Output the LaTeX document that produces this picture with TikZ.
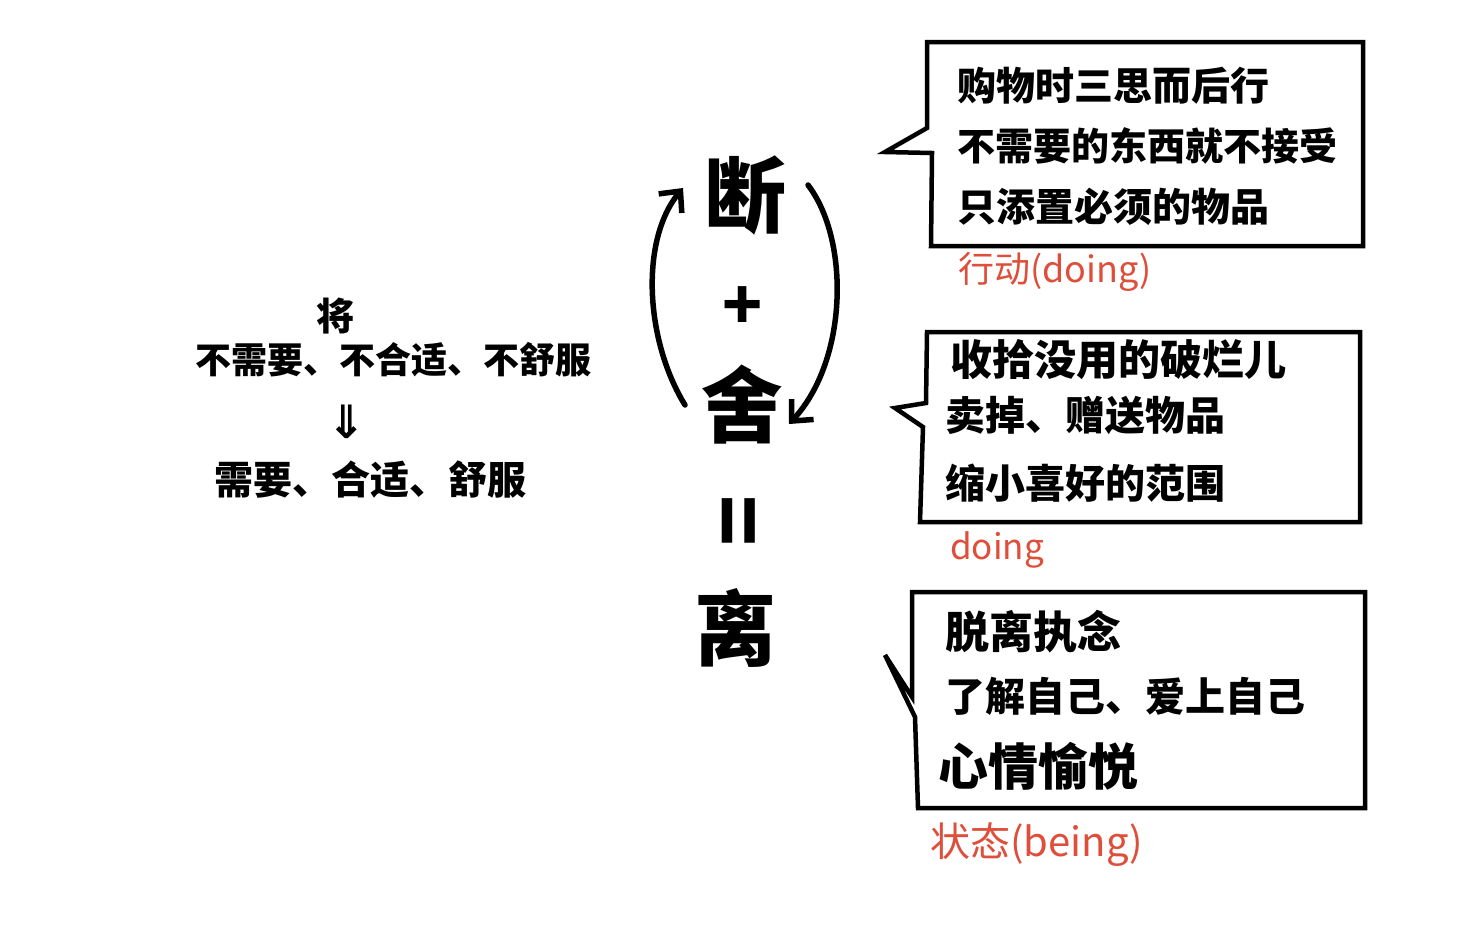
\documentclass[tikz,border=0pt]{standalone}
\usepackage{fontspec}
\newfontfamily\cjk{Noto Sans CJK SC}
\newfontfamily\symf{DejaVu Sans}
\usetikzlibrary{arrows.meta}
\definecolor{redink}{RGB}{222,78,58}
\begin{document}
\begin{tikzpicture}[x=1pt,y=-1pt,
  ink/.style={line width=4.5pt,black,line join=miter,line cap=round},
  arr/.style={ink,line width=5.5pt,-{Straight Barb[length=16pt,width=30pt]}},
  bt/.style={anchor=west,inner sep=0pt,font=\cjk\bfseries\fontsize{40}{40}\selectfont},
  big/.style={inner sep=0pt,font=\cjk\bfseries\fontsize{82}{82}\selectfont},
  lt/.style={inner sep=0pt,font=\cjk\bfseries\fontsize{36}{36}\selectfont},
  redl/.style={anchor=west,inner sep=0pt,text=redink,font=\cjk\fontsize{36}{36}\selectfont}]
\useasboundingbox[fill=white] (0,0) rectangle (1459,938);

% ---- centre column
\node[big] (duan) at (745,195) {断};
\node[inner sep=0pt,font=\cjk\bfseries\fontsize{66}{66}\selectfont] (plus) at (743,308) {+};
\node[big] (she) at (742,405) {舍};
\node[inner sep=0pt,rotate=90,font=\cjk\bfseries\fontsize{84}{84}\selectfont] (eq) at (746,521) {=};
\node[big] (li) at (735,628) {离};

\coordinate (la1) at (685,405);
\coordinate (la2) at (683,188);
\coordinate (ra1) at (808,185);
\coordinate (ra2) at (789,424);
\draw[arr] (la1) .. controls (645,340) and (640,240) .. (la2);
\draw[arr] (ra1) .. controls (850,240) and (848,360) .. (ra2);

% ---- left text
\node[lt,font=\cjk\bfseries\fontsize{38}{38}\selectfont] (jiang) at (335,316) {将};
\node[lt,anchor=west] (bad) at (195,360) {不需要、不合适、不舒服};
\node[inner sep=0pt,font=\symf\bfseries\fontsize{46}{46}\selectfont] (darr) at (347,422) {⇓};
\node[lt,anchor=west,font=\cjk\bfseries\fontsize{39}{39}\selectfont] (good) at (214,480) {需要、合适、舒服};

% ---- box 1
\draw[ink,line cap=butt] (927,128) -- (885,152) -- (932,153) -- (931,246) -- (1363,246) -- (1363,42) -- (927,42) -- cycle;
\node[bt,font=\cjk\bfseries\fontsize{39}{39}\selectfont] (b1a) at (957,86) {购物时三思而后行};
\node[bt,font=\cjk\bfseries\fontsize{38}{38}\selectfont] (b1b) at (957,146) {不需要的东西就不接受};
\node[bt,font=\cjk\bfseries\fontsize{39}{39}\selectfont] (b1c) at (957,207) {只添置必须的物品};
\node[redl] (r1) at (958,272) {行动(doing)};

% ---- box 2
\draw[ink,line cap=butt] (926,403) -- (895,408) -- (923,427) -- (920,522) -- (1360,522) -- (1360,332) -- (927,332) -- cycle;
\node[bt,font=\cjk\bfseries\fontsize{42}{42}\selectfont] (b2a) at (950,360) {收拾没用的破烂儿};
\node[bt] (b2b) at (945,415) {卖掉、赠送物品};
\node[bt] (b2c) at (945,483) {缩小喜好的范围};
\node[redl,font=\cjk\fontsize{35}{35}\selectfont] (r2) at (950,550) {doing};

% ---- box 3
\draw[ink,line cap=butt] (912,697) -- (885,655) -- (915,717) -- (918,808) -- (1365,808) -- (1365,592) -- (912,592) -- cycle;
\node[bt,font=\cjk\bfseries\fontsize{44}{44}\selectfont] (b3a) at (945,632) {脱离执念};
\node[bt,font=\cjk\bfseries\fontsize{40}{40}\selectfont] (b3b) at (945,696) {了解自己、爱上自己};
\node[bt,font=\cjk\bfseries\fontsize{50}{50}\selectfont] (b3c) at (938,766) {心情愉悦};
\node[redl,font=\cjk\fontsize{40}{40}\selectfont] (r3) at (930,845) {状态(being)};
\end{tikzpicture}
\end{document}
